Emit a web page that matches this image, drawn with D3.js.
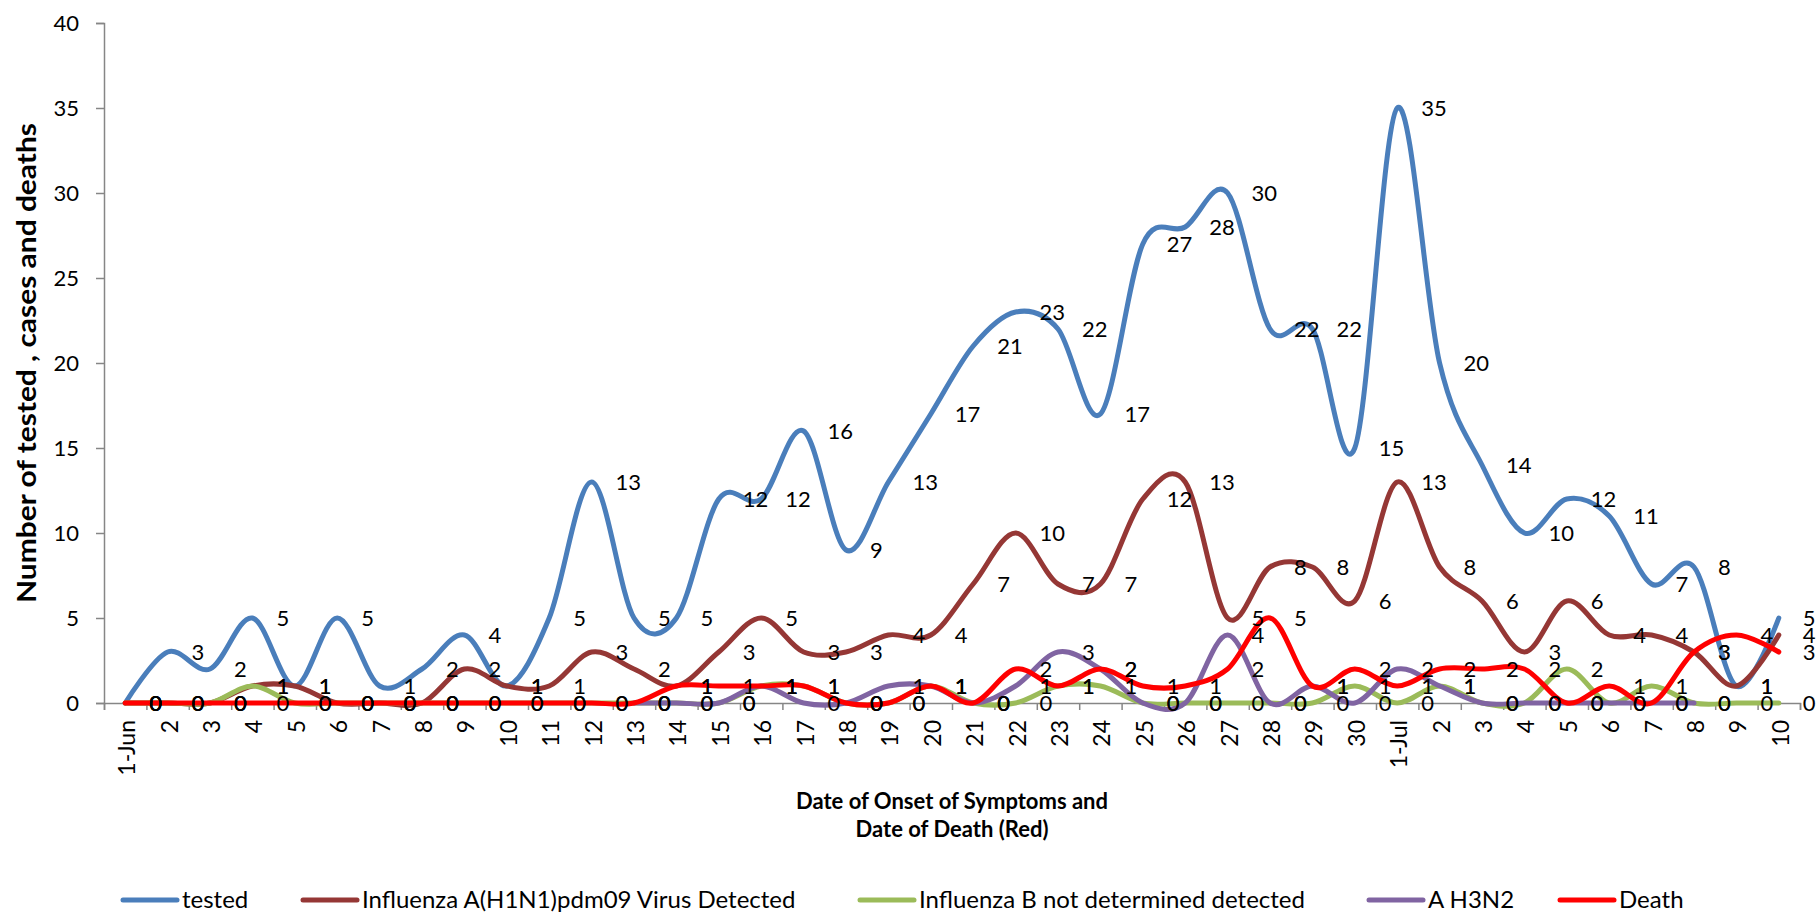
<!DOCTYPE html>
<html>
<head>
<meta charset="utf-8">
<script src="https://cdn.jsdelivr.net/npm/d3@7"></script>
<style>
  body { margin: 0; background: #fff; }
  text { font-family: Lato, "Open Sans", sans-serif; fill: #000; }
</style>
</head>
<body>
<div class="graphContainer"></div>
<script>
// canvas size
const w = 1816;
const h = 914;

// x categories: 1 June .. 10 July
const dates = ["1-Jun", "2", "3", "4", "5", "6", "7", "8", "9", "10",
               "11", "12", "13", "14", "15", "16", "17", "18", "19", "20",
               "21", "22", "23", "24", "25", "26", "27", "28", "29", "30",
               "1-Jul", "2", "3", "4", "5", "6", "7", "8", "9", "10"];

// series values
const tested = [0, 3, 2, 5, 1, 5, 1, 2, 4, 1,
                5, 13, 5, 5, 12, 12, 16, 9, 13, 17,
                21, 23, 22, 17, 27, 28, 30, 22, 22, 15,
                35, 20, 14, 10, 12, 11, 7, 8, 1, 5];

const h1n1 = [0, 0, 0, 1, 1, 0, 0, 0, 2, 1,
              1, 3, 2, 1, 3, 5, 3, 3, 4, 4,
              7, 10, 7, 7, 12, 13, 5, 8, 8, 6,
              13, 8, 6, 3, 6, 4, 4, 3, 1, 4];

const fluB = [0, 0, 0, 1, 0, 0, 0, 0, 0, 0,
              0, 0, 0, 0, 0, 1, 1, 0, 0, 1,
              0, 0, 1, 1, 0, 0, 0, 0, 0, 1,
              0, 1, 0, 0, 2, 0, 1, 0, 0, 0];

const h3n2 = [null, null, null, null, null, null, null, null, null, null,
              null, null, 0, 0, 0, 1, 0, 0, 1, 1,
              0, 1, 3, 2, 0, 0, 4, 0, 1, 0,
              2, 1, 0, 0, 0, 0, 0, 0, null, null];

const death = [0, 0, 0, 0, 0, 0, 0, 0, 0, 0,
               0, 0, 0, 1, 1, 1, 1, 0, 0, 1,
               0, 2, 1, 2, 1, 1, 2, 5, 1, 2,
               1, 2, 2, 2, 0, 1, 0, 3, 4, 3];

const seriesNames = ["tested", "Influenza A(H1N1)pdm09 Virus Detected",
                     "Influenza B not determined detected", "A H3N2", "Death"];
const seriesColors = ["#4A7EBB", "#953735", "#9BBB59", "#8064A2", "#FF0000"];
const yTicks = [0, 5, 10, 15, 20, 25, 30, 35, 40];

const series = [tested, h1n1, fluB, h3n2, death].map((vals, i) => ({
  name: seriesNames[i], color: seriesColors[i], values: vals
}));

// plot box
const pLeft = 104, pRight = 1800, pTop = 23, pBottom = 703;

const svg = d3.select(".graphContainer").append("svg")
  .attr("width", w)
  .attr("height", h);

const xScale = d3.scaleBand()
  .domain(d3.range(dates.length))
  .range([pLeft, pRight]);
const xEdge = d3.scaleLinear()
  .domain([0, dates.length])
  .range([pLeft, pRight]);
const xc = (i) => xScale(i) + xScale.bandwidth() / 2;

const yScale = d3.scaleLinear()
  .domain([0, 40])
  .range([pBottom, pTop]);

// y axis
const yAxis = svg.append("g")
  .attr("transform", `translate(${pLeft},0)`)
  .call(d3.axisLeft(yScale).tickValues(yTicks).tickSize(8).tickPadding(17));
yAxis.selectAll("text").style("font-size", "22px").style("font-family", "Lato");

// x axis: tick marks at band edges
svg.append("g")
  .attr("transform", `translate(0,${pBottom})`)
  .call(d3.axisBottom(xEdge).ticks(dates.length).tickSize(7).tickFormat(""));

// x axis labels, rotated
const xLabelAxis = svg.append("g")
  .attr("transform", `translate(0,${pBottom})`)
  .call(d3.axisBottom(xScale).tickSize(0).tickFormat((i) => dates[i]));
xLabelAxis.select(".domain").remove();
xLabelAxis.selectAll("text")
  .attr("transform", "rotate(-90)")
  .attr("x", -17)
  .attr("y", 2)
  .attr("dy", "0.35em")
  .attr("text-anchor", "end")
  .style("font-size", "23px")
  .style("font-family", "Lato");

svg.selectAll(".domain, .tick line")
  .attr("stroke", "#868686")
  .attr("stroke-width", 1.5);

// lines
const line = d3.line()
  .defined((d) => d != null)
  .x((d, i) => xc(i))
  .y((d) => yScale(d))
  .curve(d3.curveCardinal.tension(0));

svg.append("g").selectAll("path")
  .data(series)
  .enter()
  .append("path")
  .attr("d", (s) => line(s.values))
  .attr("fill", "none")
  .attr("stroke", (s) => s.color)
  .attr("stroke-width", 5)
  .attr("stroke-linejoin", "round")
  .attr("stroke-linecap", "round");

// data labels, to the right of each point
const labels = svg.append("g");
series.forEach((s) => {
  labels.selectAll(null)
    .data(s.values.map((v, i) => ({ v: v, i: i })).filter((d) => d.v != null))
    .enter()
    .append("text")
    .attr("x", (d) => xc(d.i) + 24)
    .attr("y", (d) => yScale(d.v))
    .attr("dy", "0.36em")
    .style("font-size", "22px")
    .text((d) => d.v);
});

// axis titles
svg.append("text")
  .attr("transform", `translate(27,${(pTop + pBottom) / 2}) rotate(-90)`)
  .attr("text-anchor", "middle")
  .attr("dy", "0.35em")
  .attr("textLength", 480)
  .attr("lengthAdjust", "spacingAndGlyphs")
  .style("font-size", "27px")
  .style("font-weight", "bold")
  .text("Number of tested , cases and deaths");

svg.append("text")
  .attr("x", 952)
  .attr("y", 801)
  .attr("dy", "0.35em")
  .attr("text-anchor", "middle")
  .style("font-size", "22px")
  .style("font-weight", "bold")
  .text("Date of Onset of Symptoms and");

svg.append("text")
  .attr("x", 952)
  .attr("y", 829)
  .attr("dy", "0.35em")
  .attr("text-anchor", "middle")
  .style("font-size", "22px")
  .style("font-weight", "bold")
  .text("Date of Death (Red)");

// legend
const legendX = [123, 303, 860, 1369, 1560];
const legendY = 900;
const legendItem = svg.append("g").selectAll("g")
  .data(series)
  .enter()
  .append("g")
  .attr("transform", (s, i) => `translate(${legendX[i]},${legendY})`);

legendItem.append("line")
  .attr("x1", 0).attr("x2", 54)
  .attr("stroke", (s) => s.color)
  .attr("stroke-width", 5)
  .attr("stroke-linecap", "round");

legendItem.append("text")
  .attr("x", 59)
  .attr("dy", "0.35em")
  .style("font-size", "24px")
  .text((s) => s.name);
</script>
</body>
</html>
